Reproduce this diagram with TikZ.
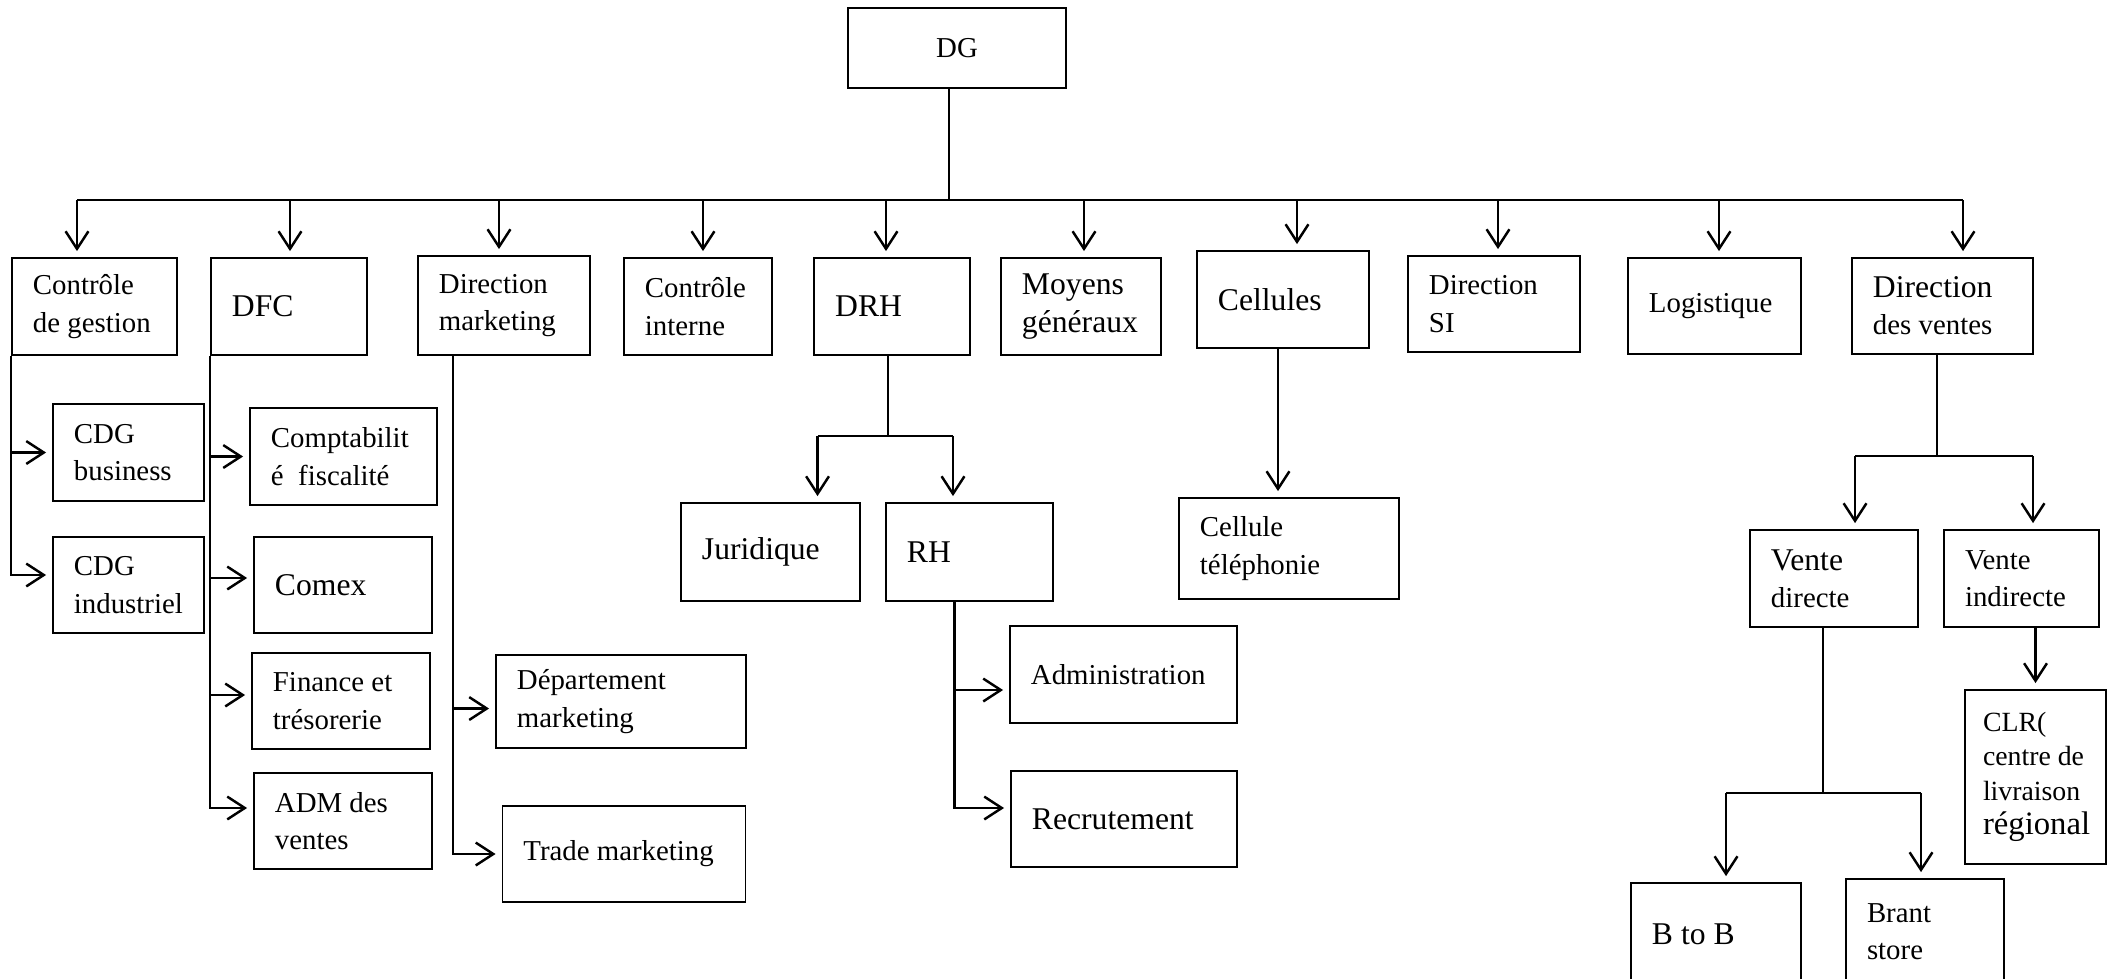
\documentclass[tikz,border=0pt]{standalone}
\usepackage{fontspec}
\setmainfont{Liberation Serif}
\usetikzlibrary{arrows.meta,positioning}

\tikzset{
  orgbox/.style={draw, line width=0.5pt, inner xsep=0.21cm, inner ysep=0pt, align=flush left,
    font=\fontsize{8.2}{10.6}\selectfont, execute at begin node={\hyphenpenalty=10000}},
  big/.style={font=\fontsize{9}{11}\selectfont},
  ln/.style={line width=0.7pt},
  arr/.style={line width=0.7pt, -{Straight Barb[length=5pt,width=6.5pt]}, shorten >=0.06cm},
}

\begin{document}
\begin{tikzpicture}[x=0.01cm, y=-0.01cm]
            \useasboundingbox (0,0) rectangle (2107,978);

            % direction generale
            \node[orgbox, minimum width=2.18cm, minimum height=0.8cm] (dg) at (957,48) {DG};

            % directions
            \node[orgbox, minimum width=1.65cm, minimum height=0.97cm, text width=1.23cm] (cdg) at (94.5,306.5) {Contrôle\\de gestion};
            \node[orgbox, big, minimum width=1.56cm, minimum height=0.97cm, text width=1.14cm] (dfc) at (289,306.5) {DFC};
            \node[orgbox, minimum width=1.72cm, minimum height=0.99cm, text width=1.30cm] (dmk) at (504,305.5) {Direction\\marketing};
            \node[orgbox, minimum width=1.48cm, minimum height=0.97cm, text width=1.06cm] (ci) at (698,306.5) {Contrôle\\interne};
            \node[orgbox, big, minimum width=1.555cm, minimum height=0.97cm, text width=1.135cm] (drh) at (892,306.5) {DRH};
            \node[orgbox, big, minimum width=1.60cm, minimum height=0.97cm, text width=1.18cm] (mg) at (1081,306.5) {Moyens\\généraux};
            \node[orgbox, big, minimum width=1.72cm, minimum height=0.97cm, text width=1.30cm] (cel) at (1283,299.5) {Cellules};
            \node[orgbox, minimum width=1.72cm, minimum height=0.96cm, text width=1.30cm] (dsi) at (1494,304) {Direction\\SI};
            \node[orgbox, minimum width=1.73cm, minimum height=0.96cm, text width=1.31cm] (log) at (1714.5,306) {Logistique};
            \node[orgbox, minimum width=1.81cm, minimum height=0.96cm, text width=1.39cm] (dv) at (1942.5,306) {{\fontsize{9}{11}\selectfont Direction}\\des ventes};

            % services
            \node[orgbox, minimum width=1.51cm, minimum height=0.97cm, text width=1.09cm] (cdgb) at (128.5,452.5) {CDG\\business};
            \node[orgbox, minimum width=1.51cm, minimum height=0.96cm, text width=1.09cm] (cdgi) at (128.5,585) {CDG\\industriel};

            \node[orgbox, minimum width=1.87cm, minimum height=0.97cm, text width=1.45cm] (cf) at (343.5,456.5) {Comptabilit\\é~\ fiscalité};
            \node[orgbox, big, minimum width=1.78cm, minimum height=0.96cm, text width=1.36cm] (cx) at (343,585) {Comex};
            \node[orgbox, minimum width=1.78cm, minimum height=0.96cm, text width=1.36cm] (ft) at (341,701) {Finance et\\trésorerie};
            \node[orgbox, minimum width=1.78cm, minimum height=0.96cm, text width=1.36cm] (adm) at (343,821) {ADM des\\ventes};

            \node[orgbox, minimum width=2.50cm, minimum height=0.93cm, text width=2.08cm] (dep) at (621,701.5) {Département\\marketing};
            \node[orgbox, minimum width=2.43cm, minimum height=0.96cm, text width=2.01cm] (tm) at (624,854) {Trade marketing};

            \node[orgbox, big, minimum width=1.79cm, minimum height=0.98cm, text width=1.37cm] (jur) at (770.5,552) {Juridique};
            \node[orgbox, big, minimum width=1.67cm, minimum height=0.98cm, text width=1.25cm] (rh) at (969.5,552) {RH};
            \node[orgbox, minimum width=2.27cm, minimum height=0.97cm, text width=1.85cm] (adm2) at (1123.5,674.5) {Administration};
            \node[orgbox, big, minimum width=2.26cm, minimum height=0.96cm, text width=1.84cm] (rec) at (1124,819) {Recrutement};

            \node[orgbox, minimum width=2.20cm, minimum height=1.01cm, text width=1.78cm] (ct) at (1289,548.5) {Cellule\\téléphonie};

            \node[orgbox, minimum width=1.68cm, minimum height=0.97cm, text width=1.26cm] (vd) at (1834,578.5) {{\fontsize{9}{11}\selectfont Vente}\\directe};
            \node[orgbox, minimum width=1.55cm, minimum height=0.97cm, text width=1.13cm] (vi) at (2021.5,578.5) {Vente\\indirecte};
            \node[orgbox, font=\fontsize{7.9}{9.8}\selectfont, inner xsep=0.18cm, minimum width=1.41cm, minimum height=1.74cm, text width=1.05cm] (clr) at (2035.5,777) {CLR(\\centre de\\livraison\\{\fontsize{9.3}{9.8}\selectfont régional}};
            \node[orgbox, big, minimum width=1.70cm, minimum height=1.02cm, text width=1.28cm] (b2b) at (1716,934) {B to B};
            \node[orgbox, minimum width=1.58cm, minimum height=1.06cm, text width=1.16cm] (bs) at (1925,932) {Brant\\store};

            % DG vers les directions
            \coordinate (bus) at (949,200);
            \draw[ln] (dg.south -| bus) -- (bus);
            \foreach \x/\n in {77/cdg, 290/dfc, 499/dmk, 703/ci, 886/drh, 1084/mg, 1297/cel, 1498/dsi, 1719/log, 1963/dv}{
                \coordinate (b-\n) at (\x,200);
                \draw[arr] (b-\n) -- (b-\n |- \n.north);
            }
            \draw[ln] (b-cdg) -- (b-dv);

            % controle de gestion
            \draw[arr] (cdg.south west) |- ([yshift=0.1cm]cdgi.west);
            \draw[arr] (cdg.south west |- cdgb.west) -- (cdgb.west);

            % DFC
            \draw[arr] (dfc.south west) |- ([yshift=0.13cm]adm.west);
            \draw[arr] (dfc.south west |- cf.west) -- (cf.west);
            \draw[arr] ([yshift=0.07cm]dfc.south west |- cx.west) -- ([yshift=0.07cm]cx.west);
            \draw[arr] ([yshift=0.06cm]dfc.south west |- ft.west) -- ([yshift=0.06cm]ft.west);

            % direction marketing
            \coordinate (dmk-out) at ([xshift=0.36cm]dmk.south west);
            \draw[arr] (dmk-out) |- (tm.west);
            \draw[arr] ([yshift=-0.07cm]dmk-out |- dep.west) -- ([yshift=-0.07cm]dep.west);

            % DRH
            \draw[ln] ([xshift=-0.04cm]drh.south) -- ++(0,80) coordinate (drh-mid);
            \coordinate (jur-in) at ([xshift=0.47cm]jur.north |- drh-mid);
            \coordinate (rh-in) at ([xshift=-0.165cm]rh.north |- drh-mid);
            \draw[ln] (jur-in) -- (rh-in);
            \draw[arr] (jur-in) -- (jur-in |- jur.north);
            \draw[arr] (rh-in) -- (rh-in |- rh.north);

            % RH
            \coordinate (rh-out) at ([xshift=-0.15cm]rh.south);
            \draw[arr] (rh-out) |- ([yshift=0.11cm]rec.west);
            \draw[arr] ([yshift=-0.155cm]rh-out |- adm2.west) -- ([yshift=-0.155cm]adm2.west);

            % cellules
            \coordinate (cel-out) at ([xshift=-0.05cm]cel.south);
            \draw[arr] (cel-out) -- (cel-out |- ct.north);

            % direction des ventes
            \draw[ln] ([xshift=-0.055cm]dv.south) -- ++(0,101) coordinate (dv-mid);
            \coordinate (vd-in) at ([xshift=0.21cm]vd.north |- dv-mid);
            \coordinate (vi-in) at ([xshift=0.115cm]vi.north |- dv-mid);
            \draw[ln] (vd-in) -- (vi-in);
            \draw[arr] (vd-in) -- (vd-in |- vd.north);
            \draw[arr] (vi-in) -- (vi-in |- vi.north);

            \draw[arr] (clr.north |- vi.south) -- (clr.north);

            \coordinate (vd-out) at ([xshift=-0.11cm]vd.south);
            \draw[ln] (vd-out) -- ++(0,165) coordinate (vd-mid);
            \coordinate (b2b-in) at ([xshift=0.1cm]b2b.north |- vd-mid);
            \coordinate (bs-in) at ([xshift=-0.04cm]bs.north |- vd-mid);
            \draw[ln] (b2b-in) -- (bs-in);
            \draw[arr] (b2b-in) -- (b2b-in |- b2b.north);
            \draw[arr] (bs-in) -- (bs-in |- bs.north);
\end{tikzpicture}
\end{document}
